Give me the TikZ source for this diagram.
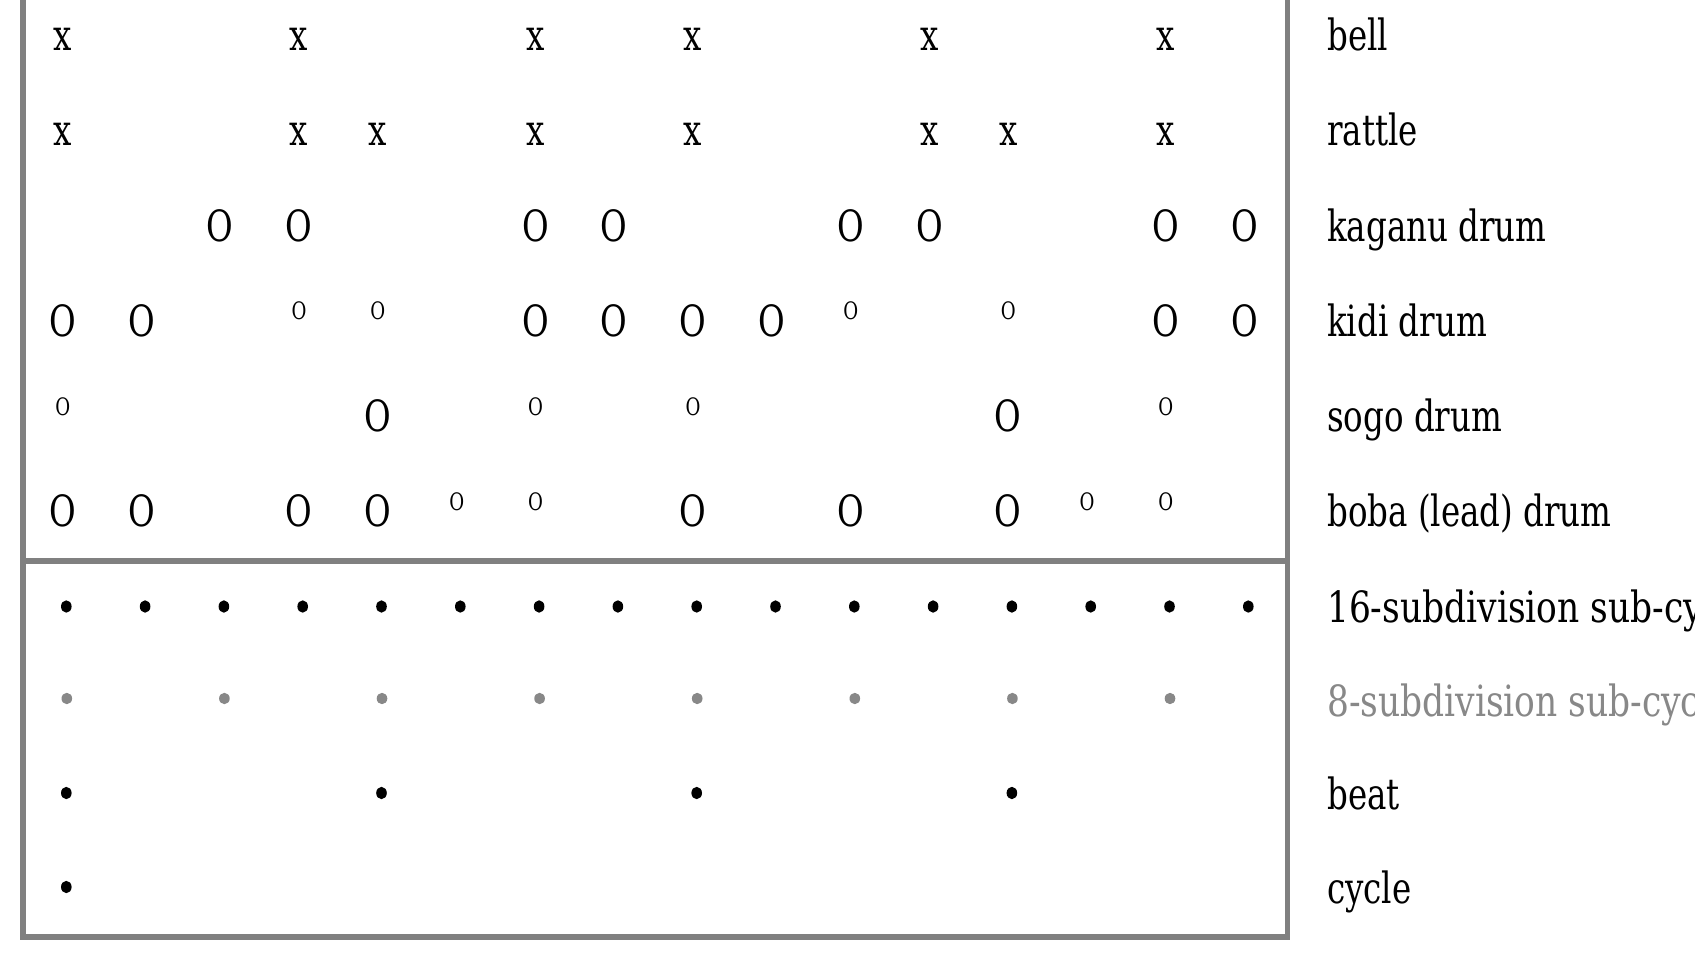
\documentclass[tikz,border=0pt]{standalone}
\usepackage{fontspec}
\setmainfont{DejaVu Serif Condensed}[FakeStretch=0.84]
\newfontfamily\widelabelfont{DejaVu Serif Condensed}[FakeStretch=0.89]
\usetikzlibrary{shapes.geometric}
\definecolor{framegrey}{HTML}{808080}
\definecolor{dotgrey}{HTML}{888888}
\begin{document}
\begin{tikzpicture}[x=1pt,y=-1pt,
  frameline/.style={draw=framegrey, line width=5.5pt},
  big/.style={font=\fontsize{43}{50}\selectfont, anchor=base, inner sep=0pt},
  small/.style={font=\fontsize{24}{28}\selectfont, anchor=base, inner sep=0pt},
  lbl/.style={font=\fontsize{43}{50}\selectfont, anchor=base west, inner sep=0pt},
  wlbl/.style={font=\widelabelfont\fontsize{43}{50}\selectfont, anchor=base west, inner sep=0pt},
  dotb/.style={ellipse, fill=black, inner sep=0pt, minimum width=10.6pt, minimum height=12.4pt},
  dotg/.style={ellipse, fill=dotgrey, inner sep=0pt, minimum width=10.6pt, minimum height=11.4pt}]
\useasboundingbox (0,0) rectangle (1695,955);
\clip (0,0) rectangle (1695,955);
% frame
\coordinate (tl) at (23,-20);
\coordinate (bl) at (23,937);
\coordinate (br) at (1287.5,937);
\coordinate (tr) at (1287.5,-20);
\coordinate (ml) at (23,561);
\coordinate (mr) at (1287.5,561);
\draw[frameline] (tl) -- (bl) -- (br) -- (tr);
\draw[frameline] (ml) -- (mr);
% rows
\foreach \c in {0,3,6,8,11,14}
  \node[big] (bell\c) at ({62.7+78.8*\c},50.5) {x};
\foreach \c in {0,3,4,6,8,11,12,14}
  \node[big] (rattle\c) at ({62.7+78.8*\c},145.7) {x};
\foreach \c in {2,3,6,7,10,11,14,15}
  \node[big] (kaganu\c) at ({62.7+78.8*\c},241) {O};
\foreach \c in {0,1,6,7,8,9,14,15}
  \node[big] (kidi\c) at ({62.7+78.8*\c},336.3) {O};
\foreach \c in {3,4,10,12}
  \node[small] (kidis\c) at ({62.7+78.8*\c},319.8) {O};
\foreach \c in {4,12}
  \node[big] (sogo\c) at ({62.7+78.8*\c},431.5) {O};
\foreach \c in {0,6,8,14}
  \node[small] (sogos\c) at ({62.7+78.8*\c},415) {O};
\foreach \c in {0,1,3,4,8,10,12}
  \node[big] (boba\c) at ({62.7+78.8*\c},526.8) {O};
\foreach \c in {5,6,13,14}
  \node[small] (bobas\c) at ({62.7+78.8*\c},510.3) {O};
% dots
\foreach \c in {0,...,15}
  \node[dotb] (sixteen\c) at ({66.3+78.8*\c},606.5) {};
\foreach \c in {0,2,...,14}
  \node[dotg] (eight\c) at ({66.8+78.8*\c},698.5) {};
\foreach \c in {0,4,8,12}
  \node[dotb] (beat\c) at ({66.3+78.8*\c},793) {};
\node[dotb] (cycle0) at (66.3,887) {};
% labels
\node[lbl] (Lbell) at (1327,50.5) {bell};
\node[lbl] (Lrattle) at (1327,145.7) {rattle};
\node[lbl] (Lkaganu) at (1327,241) {kaganu drum};
\node[lbl] (Lkidi) at (1327,336.3) {kidi drum};
\node[lbl] (Lsogo) at (1327,431.5) {sogo drum};
\node[lbl] (Lboba) at (1327,526.8) {boba (lead) drum};
\node[wlbl] (Lsixteen) at (1327,622.7) {16-subdivision sub-cycle};
\node[wlbl, text=dotgrey] (Leight) at (1327,716) {8-subdivision sub-cycle};
\node[lbl] (Lbeat) at (1327,809.5) {beat};
\node[lbl] (Lcycle) at (1327,903) {cycle};
\end{tikzpicture}
\end{document}
